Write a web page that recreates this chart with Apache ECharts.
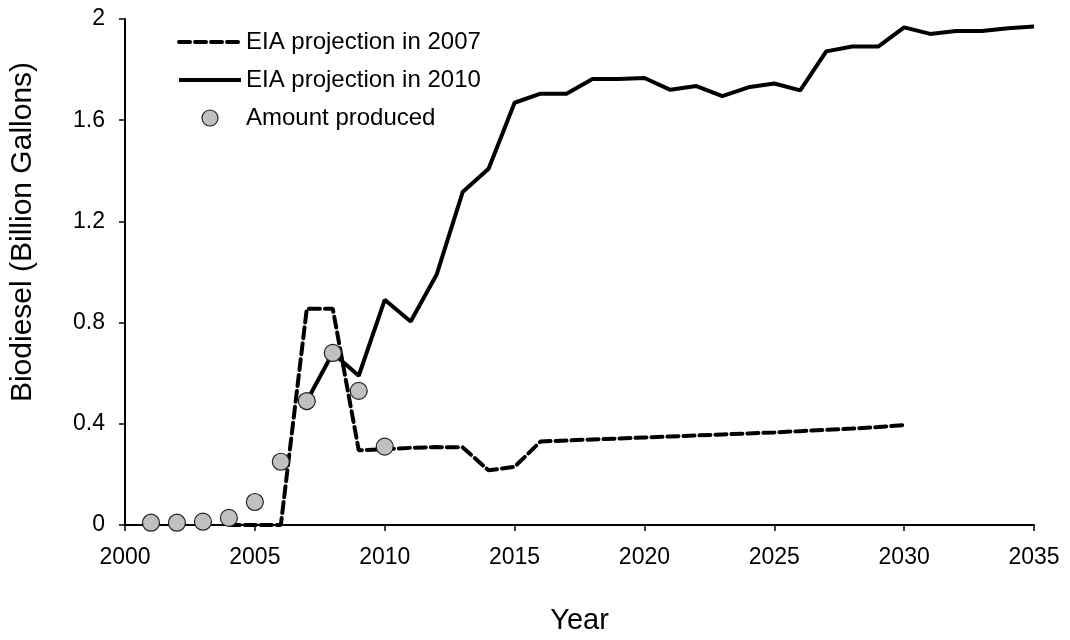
<!DOCTYPE html>
<html><head><meta charset="utf-8">
<script src="https://cdn.jsdelivr.net/npm/echarts@6/dist/echarts.min.js"></script>
<style>html,body{margin:0;padding:0;background:#fff}#c{width:1070px;height:640px}</style>
</head><body><div id="c"></div>
<script>
const years2007 = [2004,2005,2006,2007,2008,2009,2010,2011,2012,2013,2014,2015,2016,2017,2018,2019,2020,2021,2022,2023,2024,2025,2026,2027,2028,2029,2030];
const proj2007 = [0,0,0,0.855,0.855,0.295,0.300,0.305,0.308,0.307,0.216,0.230,0.330,0.334,0.338,0.342,0.346,0.350,0.354,0.358,0.362,0.366,0.371,0.376,0.381,0.387,0.395];
const years2010 = [2007,2008,2009,2010,2011,2012,2013,2014,2015,2016,2017,2018,2019,2020,2021,2022,2023,2024,2025,2026,2027,2028,2029,2030,2031,2032,2033,2034,2035];
const proj2010 = [0.49,0.68,0.59,0.89,0.804,0.99,1.316,1.408,1.669,1.705,1.705,1.763,1.763,1.767,1.72,1.735,1.695,1.73,1.745,1.718,1.872,1.891,1.891,1.967,1.941,1.953,1.953,1.963,1.97];
const yearsProduced = [2001,2002,2003,2004,2005,2006,2007,2008,2009,2010];
const produced = [0.009,0.009,0.013,0.028,0.091,0.25,0.49,0.68,0.53,0.31];
const yTicks = [0,0.4,0.8,1.2,1.6,2];
const seriesNames = ['EIA projection in 2007','EIA projection in 2010','Amount produced'];

const pair = (xs, ys) => xs.map((x,i)=>[x, ys[i]]);
const font = 'Liberation Sans, Arial, sans-serif';
const dash = [11,5];
const chart = echarts.init(document.getElementById('c'));
chart.setOption({
  animation:false,
  backgroundColor:'#fff',
  textStyle:{fontFamily:font},
  grid:{left:124,right:36,top:19,bottom:111,containLabel:false},
  legend:{
    orient:'vertical', left:172, top:25, itemWidth:62, itemHeight:16, itemGap:14,
    textStyle:{fontSize:24,lineHeight:24,color:'#000',fontFamily:font},
    data:[
      {name:seriesNames[0], itemStyle:{opacity:0}, lineStyle:{width:4,type:dash,color:'#000'}},
      {name:seriesNames[1], itemStyle:{opacity:0}, lineStyle:{width:4,color:'#000'}},
      {name:seriesNames[2], icon:'circle', itemStyle:{color:'#c0c0c0',borderColor:'#222',borderWidth:1.2}}
    ]
  },
  xAxis:{
    type:'value', min:2000, max:2035, interval:5,
    name:'Year', nameLocation:'middle', nameGap:81,
    nameTextStyle:{fontSize:29,color:'#000',fontFamily:font},
    axisLine:{lineStyle:{color:'#000',width:2}},
    axisTick:{show:true,length:6,lineStyle:{color:'#000',width:1.5}},
    axisLabel:{fontSize:23,color:'#000',margin:21,formatter:v=>String(v)},
    splitLine:{show:false}
  },
  yAxis:{
    type:'value', min:0, max:2, interval:0.4,
    name:'Biodiesel (Billion Gallons)', nameLocation:'middle', nameGap:87,
    nameTextStyle:{fontSize:30,color:'#000',fontFamily:font,padding:[0,0,0,80]},
    axisLine:{show:true,lineStyle:{color:'#000',width:2}},
    axisTick:{show:true,length:6,lineStyle:{color:'#000',width:1.5}},
    axisLabel:{fontSize:23,color:'#000',margin:20,formatter:v=>{const t=yTicks.find(k=>Math.abs(k-v)<1e-9);return String(t!==undefined?t:v);}},
    splitLine:{show:false}
  },
  series:[
    {name:seriesNames[0], type:'line', data:pair(years2007,proj2007), showSymbol:false, symbol:'none',
     lineStyle:{color:'#000',width:4,type:dash,cap:'round'}, itemStyle:{color:'#000'}, z:2},
    {name:seriesNames[1], type:'line', data:pair(years2010,proj2010), showSymbol:false, symbol:'none',
     lineStyle:{color:'#000',width:4}, itemStyle:{color:'#000'}, z:3},
    {name:seriesNames[2], type:'scatter', data:pair(yearsProduced,produced), symbol:'circle', symbolSize:17,
     itemStyle:{color:'#c0c0c0',borderColor:'#222',borderWidth:1.2,opacity:1}, z:5}
  ]
});
</script></body></html>
